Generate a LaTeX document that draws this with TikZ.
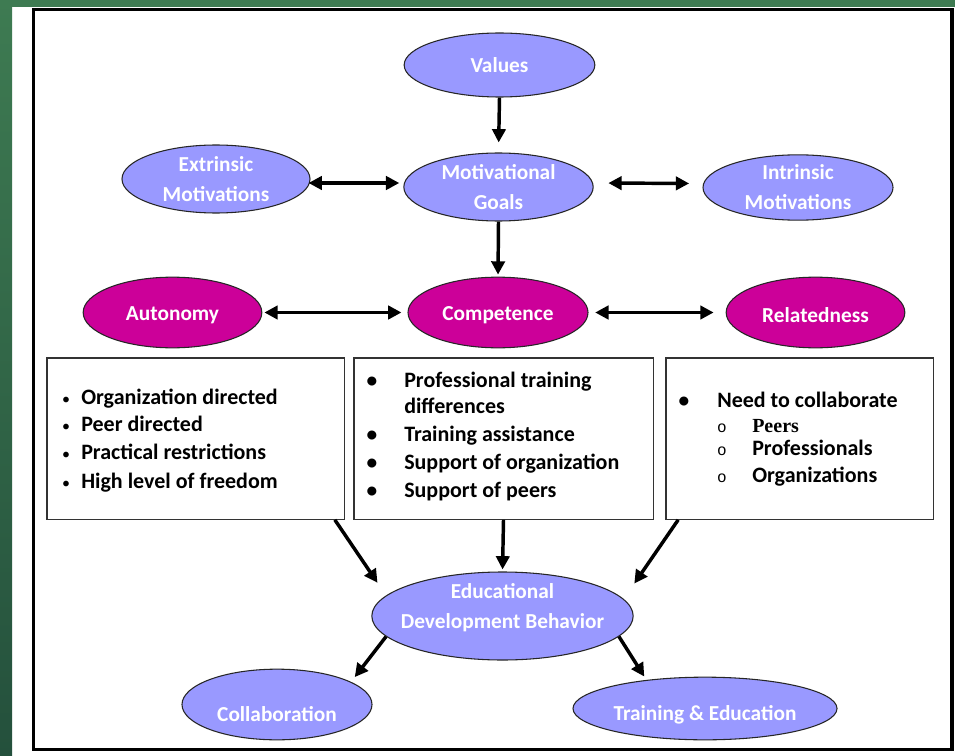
\documentclass[tikz,border=0pt]{standalone}
\usepackage{fontspec}
\setmainfont{Carlito}
\newfontfamily\serfont{Liberation Serif}
\newfontfamily\monfont{Liberation Mono}
\usetikzlibrary{shapes.geometric,arrows.meta}
\definecolor{lavender}{HTML}{9999FF}
\definecolor{plum}{HTML}{CC0099}
\definecolor{bggreen}{HTML}{3E7B52}
\definecolor{bgdark}{HTML}{24503C}
\tikzset{
  goal/.style={ellipse, draw=black!85, line width=0.8pt, fill=lavender, inner sep=0pt},
  need/.style={goal, fill=plum},
  goaltext/.style={text=white, font=\fontsize{16}{22.5}\selectfont\bfseries, align=center, inner sep=0pt},
  listbox/.style={draw=black!80, line width=1pt, inner sep=0pt, minimum height=121pt},
  item/.style={anchor=base west, inner sep=0pt, font=\fontsize{16.5}{19}\selectfont\bfseries},
  bul/.style={anchor=base, inner sep=0pt, font=\fontsize{16}{19}\selectfont\bfseries},
  arr/.style={line width=2.6pt, -{Triangle[length=10pt,width=10pt]}},
  darr/.style={line width=2.6pt, {Triangle[length=10pt,width=10pt]}-{Triangle[length=10pt,width=10pt]}}
}
\begin{document}
\begin{tikzpicture}[x=0.75pt, y=-0.75pt]
  \useasboundingbox (0,0) rectangle (967,756);
  % background and frame
  \fill[white] (0,0) rectangle (967,756);
  \shade[top color=bggreen, bottom color=bgdark] (0,0) rectangle (12,756);
  \fill[bggreen] (12,0) rectangle (955,7);
  \draw[line width=2.4pt] (33.5,9.5) rectangle (952,749.5);

  % motivation
  \node[goal, minimum width=143pt, minimum height=48pt] (val) at (499.5,65) {};
  \node[goaltext] (valt) at (val) {Values};
  \node[goal, minimum width=141pt, minimum height=51pt] (ext) at (216,179) {};
  \node[goaltext] (extt) at (ext) {Extrinsic\\Motivations};
  \node[goal, minimum width=142pt, minimum height=51pt] (mg) at (498.5,187) {};
  \node[goaltext] (mgt) at (mg) {Motivational\\Goals};
  \node[goal, minimum width=142.5pt, minimum height=49pt] (int) at (798,187.5) {};
  \node[goaltext] (intt) at (int) {Intrinsic\\Motivations};

  % basic needs
  \node[need, minimum width=134pt, minimum height=53pt] (aut) at (172.5,312.5) {};
  \node[goaltext] (autt) at ([yshift=-2pt]aut) {Autonomy};
  \node[need, minimum width=135pt, minimum height=53pt] (comp) at (498,312.5) {};
  \node[goaltext] (compt) at ([yshift=-2pt]comp) {Competence};
  \node[need, minimum width=134pt, minimum height=53pt] (rel) at (815.5,312.5) {};
  \node[goaltext] (relt) at ([yshift=-2pt]rel) {Relatedness};

  % boxes
  \node[listbox, minimum width=223pt] (lbox) at (195.5,438.5) {};
  \node[listbox, minimum width=224.5pt] (mbox) at (503.5,438.5) {};
  \node[listbox, minimum width=200.5pt] (rbox) at (799.5,438.5) {};

  \foreach \y/\t [count=\i] in {404/Organization directed, 431/Peer directed,
      459/Practical restrictions, 488/High level of freedom}{
    \node[bul, font=\fontsize{12}{14}\selectfont] (lb\i) at (66,\y) {\textbullet};
    \node[item] (lt\i) at (81,\y) {\t};
  }
  \foreach \y/\t [count=\i] in {387/Professional training, 441/Training assistance,
      469/Support of organization, 497/Support of peers}{
    \node[bul] (mb\i) at (372,\y) {\textbullet};
    \node[item] (mt\i) at (404,\y) {\t};
  }
  \node[item] (mt5) at (404,413) {differences};
  \node[bul] (rb1) at (684,407) {\textbullet};
  \node[item] (rt1) at (717,407) {Need to collaborate};
  \foreach \y/\t [count=\i] in {432/{\serfont\fontsize{15}{18}\selectfont Peers}, 455/Professionals, 482/Organizations}{
    \node[bul, font=\monfont\fontsize{12}{14}\selectfont] (rc\i) at (722,\y) {o};
    \node[item] (rs\i) at (752,\y) {\t};
  }

  % behaviour
  \node[goal, minimum width=196pt, minimum height=66pt] (edb) at (502.5,616) {};
  \node[goaltext] (edbt) at ([yshift=6pt]edb) {Educational\\Development Behavior};
  \node[goal, minimum width=142.5pt, minimum height=53pt] (col) at (277,704.5) {};
  \node[goaltext] (colt) at ([yshift=-7.5pt]col) {Collaboration};
  \node[goal, minimum width=198pt, minimum height=47pt] (trn) at (705,708.5) {};
  \node[goaltext] (trnt) at ([yshift=-5pt]trn) {Training \& Education};

  % connectors
  \draw[arr, shorten >=7.5pt] (val.south) -- (mg.north);
  \draw[darr, shorten <=-1.5pt, shorten >=3pt] ([yshift=-3pt]ext.east) -- ([yshift=-3pt]ext.east -| mg.west);
  \draw[darr, shorten <=11pt, shorten >=10pt] ([yshift=3pt]mg.east) -- ([yshift=3pt]int.west);
  \draw[arr, shorten >=1.5pt] (mg.south) -- (comp.north);
  \draw[darr, shorten <=1.5pt, shorten >=4.5pt] (aut.east) -- (comp.west);
  \draw[darr, shorten <=5pt, shorten >=9pt] (comp.east) -- (rel.west);
  \draw[arr, shorten >=11.5pt] ([xshift=-7.5pt]lbox.south east) -- (edb.170);
  \draw[arr, shorten >=1.5pt] (mbox.south) -- (edb.north);
  \draw[arr, shorten >=14pt] ([xshift=9.75pt]rbox.south west) -- (edb.8.5);
  \draw[arr, shorten >=4.5pt] (edb.190) -- (col.17);
  \draw[arr, shorten >=3pt] (edb.350) -- (trn.154.5);
\end{tikzpicture}
\end{document}
